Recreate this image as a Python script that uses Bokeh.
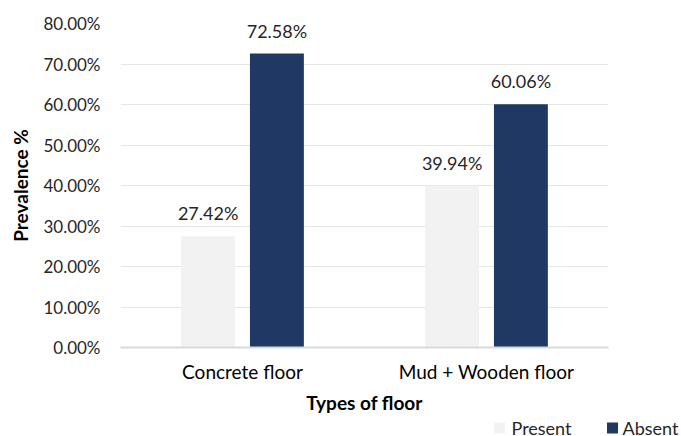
from bokeh.plotting import figure
from bokeh.layouts import column
from bokeh.models import ColumnDataSource, FixedTicker, Range1d
from bokeh.core.properties import value
from bokeh.embed import file_html
from bokeh.resources import INLINE

categories = ["Concrete floor", "Mud + Wooden floor"]
present = [27.42, 39.94]
absent = [72.58, 60.06]
series_names = ["Present", "Absent"]
series_colors = ["#f2f2f2", "#203864"]
y_ticks = [0, 10, 20, 30, 40, 50, 60, 70, 80]
y_tick_labels = ["0.00%", "10.00%", "20.00%", "30.00%", "40.00%", "50.00%", "60.00%", "70.00%", "80.00%"]

FONT = "Lato"
TXT = "#262626"

xc = [i + 0.5 for i in range(len(categories))]
off = 0.141
bw = 0.221

src_p = ColumnDataSource(dict(x=[c - off for c in xc], top=present,
                              lab=[f"{v:.2f}%" for v in present]))
src_a = ColumnDataSource(dict(x=[c + off for c in xc], top=absent,
                              lab=[f"{v:.2f}%" for v in absent]))

p = figure(width=681, height=416, output_backend="svg", toolbar_location=None,
           x_range=Range1d(0, len(categories)), y_range=Range1d(0, 80),
           min_border_left=120, min_border_right=73, min_border_top=23, min_border_bottom=68)
p.frame_align = False
p.outline_line_color = None
p.background_fill_color = "white"
p.border_fill_color = "white"

p.vbar(x="x", top="top", width=bw, source=src_p, fill_color=series_colors[0], line_color=None)
p.vbar(x="x", top="top", width=bw, source=src_a, fill_color=series_colors[1], line_color=None)

for s in (src_p, src_a):
    p.text(x="x", y="top", text="lab", source=s, text_align="center", text_baseline="bottom",
           y_offset=-12, text_font=value(FONT), text_font_size="18px", text_color=TXT)

# y axis
p.yaxis.ticker = FixedTicker(ticks=y_ticks)
p.yaxis.major_label_overrides = {t: l for t, l in zip(y_ticks, y_tick_labels)}
p.yaxis.axis_line_color = None
p.yaxis.major_tick_line_color = None
p.yaxis.minor_tick_line_color = None
p.yaxis.major_label_text_font = FONT
p.yaxis.major_label_text_font_size = "17px"
p.yaxis.major_label_text_color = TXT
p.yaxis.major_label_standoff = 14
p.yaxis.axis_label = "Prevalence %"
p.yaxis.axis_label_text_font = FONT
p.yaxis.axis_label_text_font_size = "19px"
p.yaxis.axis_label_text_font_style = "bold"
p.yaxis.axis_label_text_color = "black"
p.yaxis.axis_label_standoff = 8

# x axis
p.xaxis.ticker = FixedTicker(ticks=xc)
p.xaxis.major_label_overrides = {c: n for c, n in zip(xc, categories)}
p.xaxis.axis_line_color = "#d9d9d9"
p.xaxis.axis_line_width = 2
p.xaxis.major_tick_line_color = None
p.xaxis.minor_tick_line_color = None
p.xaxis.major_label_text_font = FONT
p.xaxis.major_label_text_font_size = "19px"
p.xaxis.major_label_text_color = "black"
p.xaxis.major_label_standoff = 6
p.xaxis.axis_label = "Types of floor"
p.xaxis.axis_label_text_font = FONT
p.xaxis.axis_label_text_font_size = "19px"
p.xaxis.axis_label_text_font_style = "bold"
p.xaxis.axis_label_text_color = "black"
p.xaxis.axis_label_standoff = 5

p.xgrid.grid_line_color = None
p.ygrid.grid_line_color = "#e6e6e6"
p.ygrid.grid_line_width = 1

# legend strip below the chart (pixel-like coordinates)
lg = figure(width=681, height=20, output_backend="svg", toolbar_location=None,
            x_range=Range1d(0, 681), y_range=Range1d(20, 0),
            x_axis_location=None, y_axis_location=None,
            min_border_left=0, min_border_right=0, min_border_top=0, min_border_bottom=0)
lg.frame_align = False
lg.outline_line_color = None
lg.xgrid.grid_line_color = None
lg.ygrid.grid_line_color = None
lg.background_fill_color = "white"
lg.border_fill_color = "white"

leg_src = ColumnDataSource(dict(sx=[499, 612], tx=[511, 622], y=[11.5, 11.5],
                                name=series_names, color=series_colors))
lg.rect(x="sx", y="y", width=11, height=11, width_units="screen", height_units="screen",
        fill_color="color", line_color=None, source=leg_src)
lg.text(x="tx", y="y", text="name", source=leg_src, text_align="left", text_baseline="middle",
        text_font=value(FONT), text_font_size="18px", text_color=TXT)

layout = column(p, lg, spacing=0)
open("out.html", "w").write(file_html(layout, INLINE))
